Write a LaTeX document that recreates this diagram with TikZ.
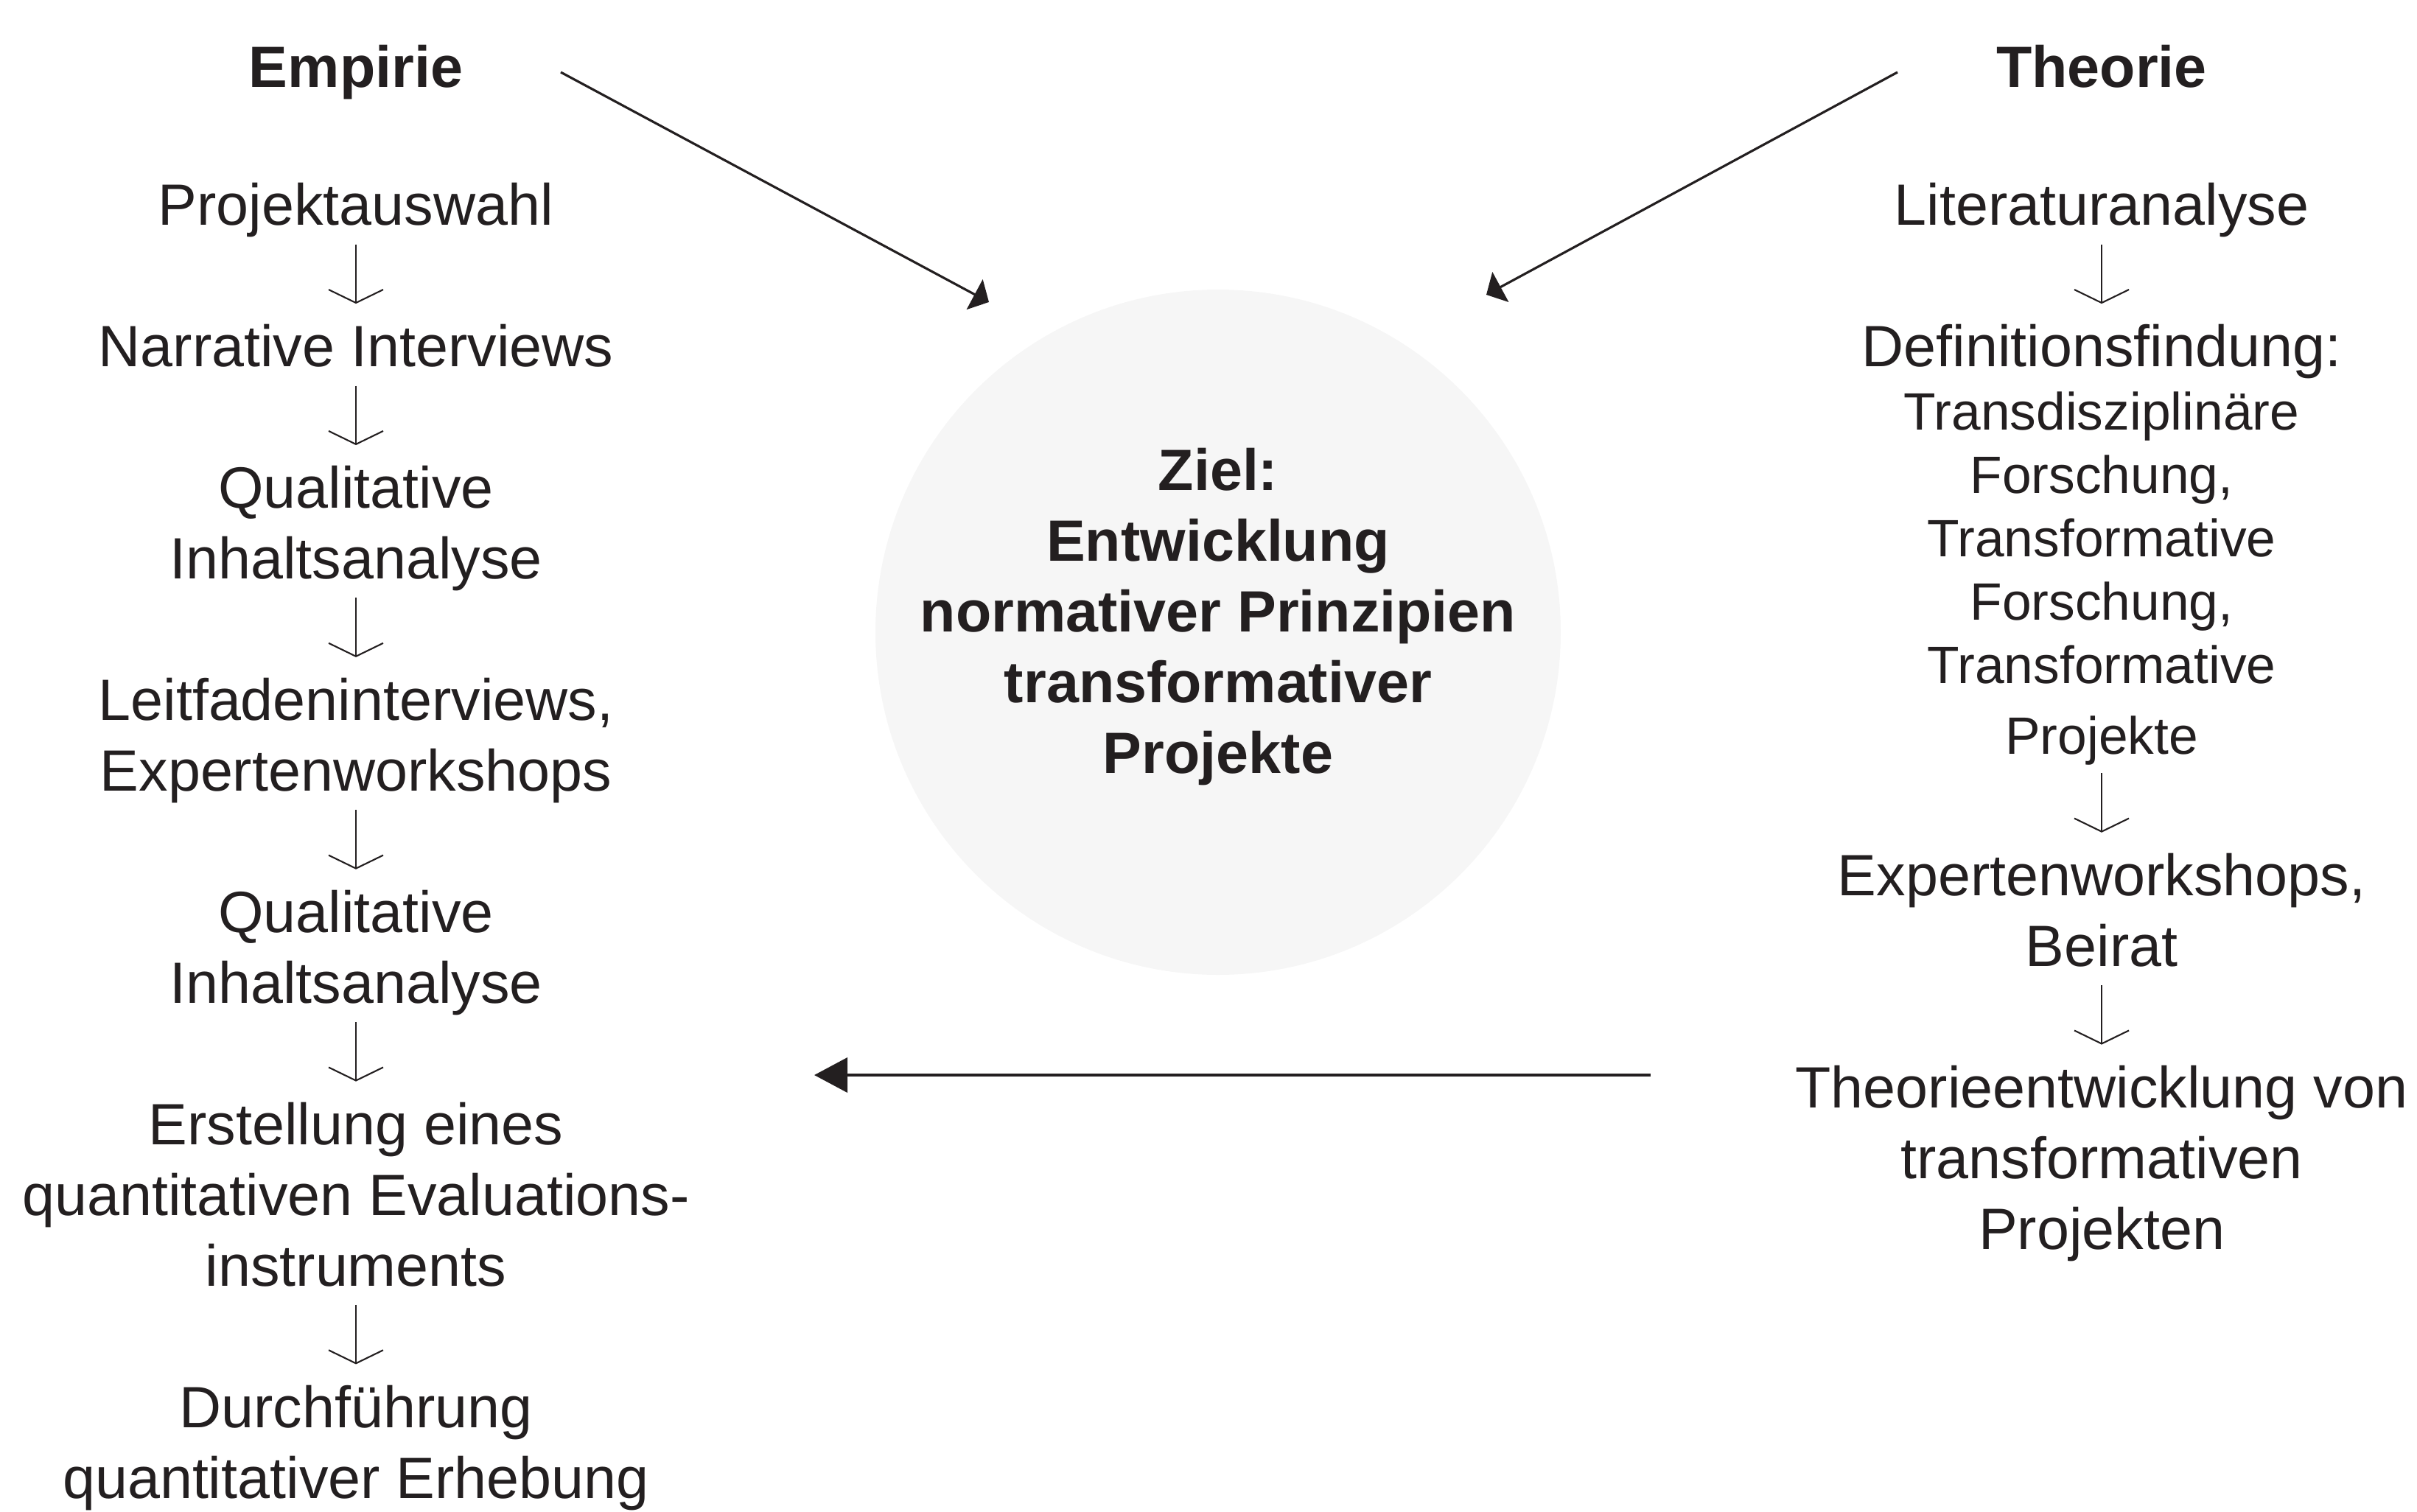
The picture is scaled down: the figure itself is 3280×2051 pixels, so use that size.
\documentclass[tikz,border=0pt]{standalone}
\usepackage{fontspec}
\setmainfont{Liberation Sans}
\usepackage{xcolor}
\usetikzlibrary{positioning,arrows.meta}

\definecolor{textcol}{HTML}{231F20}
\definecolor{goalfill}{HTML}{F6F6F6}
\newcommand{\topstrut}{\rule{0pt}{8.5mm}}
\newcommand{\botstrut}{\rule[-2.5mm]{0pt}{2.5mm}}
\newcommand{\smallline}[1]{{\fontsize{20.3}{24.4}\selectfont #1}}

\begin{document}
\begin{tikzpicture}[x=0.1mm, y=-0.1mm, node distance=8.05mm,
    stepnode/.style={font=\fontsize{22.5}{27.3}\selectfont, text=textcol, align=center, inner sep=0pt,
        execute at begin node=\topstrut, execute at end node=\botstrut},
    headnode/.style={font=\fontsize{22.5}{27.3}\selectfont\bfseries, text=textcol, inner sep=0pt, anchor=base},
    goalnode/.style={circle, fill=goalfill, minimum size=93mm, inner sep=0pt},
    smallarrow/.style={draw=textcol, line width=0.6pt, -{Straight Barb[length=1.8mm,width=7.4mm]}},
    sidearrow/.style={draw=textcol, line width=0.9pt, -{Triangle[length=2.2mm,width=4.6mm]}},
    bigarrow/.style={draw=textcol, line width=1.1pt, -{Triangle[length=4.5mm,width=4.7mm]}}]
    \useasboundingbox (0,0) rectangle (3280,2051);

    % Ziel
    \node[goalnode] (goal) at (1653,858) {};
    \node[stepnode, font=\fontsize{22.5}{27.3}\selectfont\bfseries, yshift=3.05mm] (goaltext) at (goal.center)
        {\topstrut Ziel:\\Entwicklung\\normativer Prinzipien\\transformativer\\Projekte};

    % Empirie
    \node[headnode] (empirie) at (483,119) {Empirie};
    \node[stepnode, anchor=base] (auswahl) at (483,306) {Projektauswahl};
    \node[stepnode, below=of auswahl] (narrativ) {Narrative Interviews};
    \node[stepnode, below=of narrativ] (inhalt1) {\topstrut Qualitative\\Inhaltsanalyse};
    \node[stepnode, below=of inhalt1] (leitfaden) {\topstrut Leitfadeninterviews,\\Expertenworkshops};
    \node[stepnode, below=of leitfaden] (inhalt2) {\topstrut Qualitative\\Inhaltsanalyse};
    \node[stepnode, below=of inhalt2] (instrument) {\topstrut Erstellung eines\\quantitativen Evaluations-\\instruments};
    \node[stepnode, below=of instrument] (erhebung) {\topstrut Durchführung\\quantitativer Erhebung};

    % Theorie
    \node[headnode] (theorie) at (2852,119) {Theorie};
    \node[stepnode, anchor=base] (literatur) at (2852,306) {Literaturanalyse};
    \node[stepnode, below=of literatur] (definition) {\topstrut Definitionsfindung:\\[-1mm]
        \smallline{Transdisziplinäre}\\[-1mm]\smallline{Forschung,}\\[-1mm]
        \smallline{Transformative}\\[-1mm]\smallline{Forschung,}\\[-1mm]
        \smallline{Transformative}\\\smallline{Projekte}};
    \node[stepnode, below=of definition] (beirat) {\topstrut Expertenworkshops,\\Beirat};
    \node[stepnode, below=of beirat] (entwicklung) {\topstrut Theorieentwicklung von\\transformativen\\Projekten};

    % Schritte
    \foreach \a/\b in {auswahl/narrativ, narrativ/inhalt1, inhalt1/leitfaden, leitfaden/inhalt2,
        inhalt2/instrument, instrument/erhebung, literatur/definition, definition/beirat, beirat/entwicklung}
        \draw[smallarrow] (\a.south) -- (\b.north);

    % Hauptpfeile
    \coordinate (empstart) at (761,98);
    \coordinate (empend) at (1342,410);
    \coordinate (theostart) at (2575,98);
    \coordinate (theoend) at (2017,400);
    \coordinate (backstart) at (2240,1459);
    \coordinate (backend) at (1105,1459);
    \draw[sidearrow] (empstart) -- (empend);
    \draw[sidearrow] (theostart) -- (theoend);
    \draw[bigarrow] (backstart) -- (backend);
\end{tikzpicture}
\end{document}
